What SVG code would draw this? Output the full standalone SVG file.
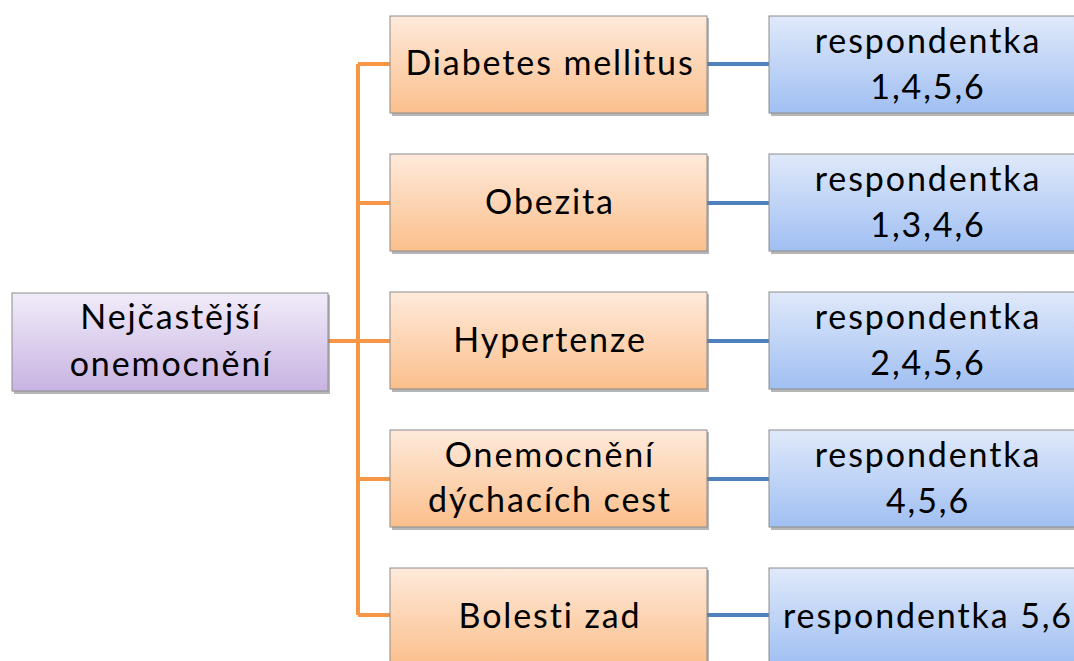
<svg xmlns="http://www.w3.org/2000/svg" width="1074" height="661" viewBox="0 0 1074 661">
  <style>
    .lbl { font-family: Lato, "Open Sans", "Liberation Sans", sans-serif; font-size: 34px; letter-spacing: 1.9px; fill: #000; text-anchor: middle; }
    .box { stroke: #8c8c8c; stroke-width: 1; }
    .org { fill: url(#gOrange); }
    .blu { fill: url(#gBlue); }
    .pur { fill: url(#gPurple); }
    .shadow { fill: #7a7a7a; opacity: 0.55; }
    .cOrange { stroke: #f79646; stroke-width: 4; fill: none; }
    .cBlue { stroke: #4f81bd; stroke-width: 4; fill: none; }
  </style>
  <defs>
    <linearGradient id="gOrange" x1="0" y1="0" x2="0" y2="1">
      <stop offset="0" stop-color="#feeadb"/>
      <stop offset="1" stop-color="#fbbf8c"/>
    </linearGradient>
    <linearGradient id="gBlue" x1="0" y1="0" x2="0" y2="1">
      <stop offset="0" stop-color="#e0e9fa"/>
      <stop offset="1" stop-color="#a0bff2"/>
    </linearGradient>
    <linearGradient id="gPurple" x1="0" y1="0" x2="0" y2="1">
      <stop offset="0" stop-color="#f1ecf9"/>
      <stop offset="1" stop-color="#c8b3e2"/>
    </linearGradient>
  </defs>
  <rect width="1074" height="661" fill="#fff"/>

  <!-- connectors -->
  <g id="connectors">
    <path class="cOrange" d="M328 341 H358 M358 64 V615 M358 64 H390 M358 203 H390 M358 341 H390 M358 479 H390 M358 615 H390"/>
    <path class="cBlue" d="M707 64 H769 M707 203 H769 M707 341 H769 M707 479 H769 M707 615 H769"/>
  </g>

  <!-- root -->
  <g id="root">
    <rect class="shadow" x="14" y="295" width="316" height="99"/>
    <rect class="box pur" x="12" y="293" width="316" height="98"/>
    <text class="lbl" x="171" y="329">Nejčastější</text>
    <text class="lbl" x="171" y="376">onemocnění</text>
  </g>

  <!-- diseases -->
  <g id="n-diabetes">
    <rect class="shadow" x="392" y="18" width="317" height="98"/>
    <rect class="box org" x="390" y="16" width="317" height="97"/>
    <text class="lbl" x="550" y="75">Diabetes mellitus</text>
  </g>
  <g id="n-obezita">
    <rect class="shadow" x="392" y="156" width="317" height="98"/>
    <rect class="box org" x="390" y="154" width="317" height="97"/>
    <text class="lbl" x="550" y="214">Obezita</text>
  </g>
  <g id="n-hypertenze">
    <rect class="shadow" x="392" y="294" width="317" height="98"/>
    <rect class="box org" x="390" y="292" width="317" height="97"/>
    <text class="lbl" x="550" y="352">Hypertenze</text>
  </g>
  <g id="n-dychaci">
    <rect class="shadow" x="392" y="432" width="317" height="98"/>
    <rect class="box org" x="390" y="430" width="317" height="97"/>
    <text class="lbl" x="550" y="467">Onemocnění</text>
    <text class="lbl" x="550" y="512">dýchacích cest</text>
  </g>
  <g id="n-bolesti">
    <rect class="shadow" x="392" y="570" width="317" height="98"/>
    <rect class="box org" x="390" y="568" width="317" height="97"/>
    <text class="lbl" x="550" y="628">Bolesti zad</text>
  </g>

  <!-- respondents -->
  <g id="r-diabetes">
    <rect class="shadow" x="771" y="18" width="306" height="98"/>
    <rect class="box blu" x="769" y="16" width="306" height="97"/>
    <text class="lbl" x="928" y="53">respondentka</text>
    <text class="lbl" x="928" y="99">1,4,5,6</text>
  </g>
  <g id="r-obezita">
    <rect class="shadow" x="771" y="156" width="306" height="98"/>
    <rect class="box blu" x="769" y="154" width="306" height="97"/>
    <text class="lbl" x="928" y="191">respondentka</text>
    <text class="lbl" x="928" y="237">1,3,4,6</text>
  </g>
  <g id="r-hypertenze">
    <rect class="shadow" x="771" y="294" width="306" height="98"/>
    <rect class="box blu" x="769" y="292" width="306" height="97"/>
    <text class="lbl" x="928" y="329">respondentka</text>
    <text class="lbl" x="928" y="375">2,4,5,6</text>
  </g>
  <g id="r-dychaci">
    <rect class="shadow" x="771" y="432" width="306" height="98"/>
    <rect class="box blu" x="769" y="430" width="306" height="97"/>
    <text class="lbl" x="928" y="467">respondentka</text>
    <text class="lbl" x="928" y="513">4,5,6</text>
  </g>
  <g id="r-bolesti">
    <rect class="shadow" x="771" y="570" width="306" height="98"/>
    <rect class="box blu" x="769" y="568" width="306" height="97"/>
    <text class="lbl" x="928" y="628">respondentka 5,6</text>
  </g>
</svg>
